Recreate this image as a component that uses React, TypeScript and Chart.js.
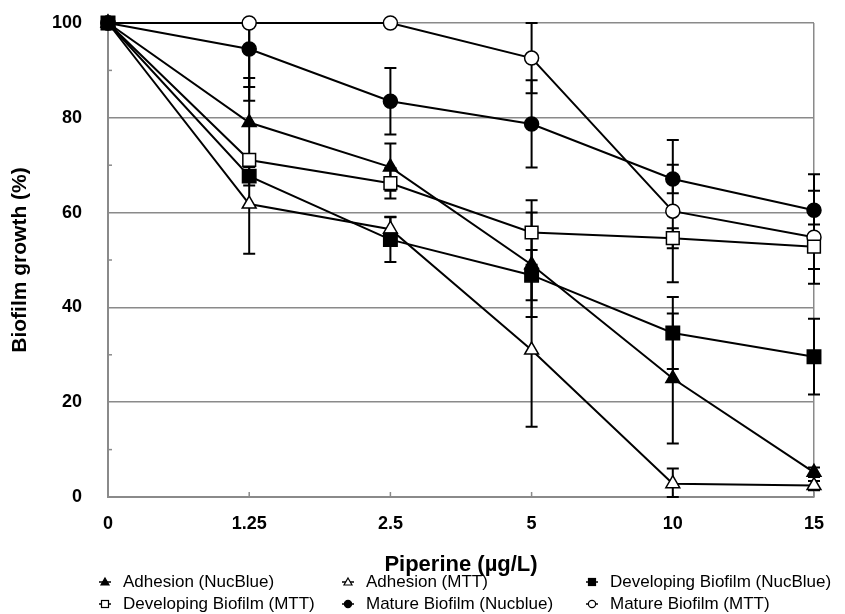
import React, { useEffect, useRef } from 'react';
import { Chart, registerables } from 'chart.js';

Chart.register(...registerables);

const categories = ['0', '1.25', '2.5', '5', '10', '15'];

const adhesionNuc = [100, 79, 69.6, 49, 25, 5.2];
const adhesionNucErr = [0, 9.4, 5, 11, 13.7, 1];
const adhesionMtt = [100, 61.8, 56.5, 31, 2.8, 2.4];
const adhesionMttErr = [0, 10.5, 2.6, 16.2, 3.2, 1];
const developingNuc = [100, 67.7, 54.3, 46.8, 34.6, 29.6];
const developingNucErr = [0, 2, 4.7, 5.3, 7.6, 8];
const developingMtt = [100, 71.1, 66.2, 55.8, 54.6, 52.8];
const developingMttErr = [0, 1, 3.2, 6.8, 2.1, 4.7];
const matureNuc = [100, 94.5, 83.5, 78.7, 67.1, 60.5];
const matureNucErr = [0, 8, 7, 9.2, 3, 7.6];
const matureMtt = [100, 100, 100, 92.6, 60.3, 54.8];
const matureMttErr = [0, 16.4, 0, 7.4, 15, 9.8];

const yTicks = [0, 20, 40, 60, 80, 100];

const FONT = "'Liberation Sans', Arial, Helvetica, sans-serif";
const GRID = '#8a8a8a';

type Series = {
  label: string;
  data: number[];
  err: number[];
  style: 'triangle' | 'rect' | 'circle';
  filled: boolean;
  radius: number;
  order: number;
};

const series: Series[] = [
  { label: 'Adhesion (NucBlue)', data: adhesionNuc, err: adhesionNucErr, style: 'triangle', filled: true, radius: 8, order: 2 },
  { label: 'Adhesion (MTT)', data: adhesionMtt, err: adhesionMttErr, style: 'triangle', filled: false, radius: 8, order: 3 },
  { label: 'Developing Biofilm (NucBlue)', data: developingNuc, err: developingNucErr, style: 'rect', filled: true, radius: 9.5, order: 0 },
  { label: 'Developing Biofilm (MTT)', data: developingMtt, err: developingMttErr, style: 'rect', filled: false, radius: 9, order: 4 },
  { label: 'Mature Biofilm (Nucblue)', data: matureNuc, err: matureNucErr, style: 'circle', filled: true, radius: 7, order: 1 },
  { label: 'Mature Biofilm (MTT)', data: matureMtt, err: matureMttErr, style: 'circle', filled: false, radius: 7, order: 5 },
];

const legendLayout = [
  { col: 0, row: 0 }, { col: 1, row: 0 }, { col: 2, row: 0 },
  { col: 0, row: 1 }, { col: 1, row: 1 }, { col: 2, row: 1 },
];
const colX = [97, 340, 584];
const rowY = [574, 596];

const errorBarPlugin = {
  id: 'errorBars',
  beforeDatasetsDraw(chart: any) {
    const { ctx, scales, chartArea } = chart;
    const x = scales.x;
    const y = scales.y;
    ctx.save();
    // inner tick marks
    ctx.strokeStyle = GRID;
    ctx.lineWidth = 1.5;
    categories.forEach((_, i) => {
      const px = x.getPixelForValue(i);
      ctx.beginPath();
      ctx.moveTo(px, chartArea.bottom);
      ctx.lineTo(px, chartArea.bottom - 5);
      ctx.stroke();
    });
    for (let v = 10; v < 100; v += 20) {
      const py = y.getPixelForValue(v);
      ctx.beginPath();
      ctx.moveTo(chartArea.left, py);
      ctx.lineTo(chartArea.left + 4, py);
      ctx.stroke();
    }
    // error bars
    ctx.strokeStyle = '#000';
    ctx.lineWidth = 2;
    series.forEach((s) => {
      s.data.forEach((v, i) => {
        const e = s.err[i];
        if (!e) return;
        const px = x.getPixelForValue(i);
        const top = y.getPixelForValue(Math.min(100, v + e));
        const bot = y.getPixelForValue(Math.max(0, v - e));
        ctx.beginPath();
        ctx.moveTo(px, top);
        ctx.lineTo(px, bot);
        if (v + e <= 100) {
          ctx.moveTo(px - 6, top);
          ctx.lineTo(px + 6, top);
        }
        ctx.moveTo(px - 6, bot);
        ctx.lineTo(px + 6, bot);
        ctx.stroke();
      });
    });
    ctx.restore();
  },
};

function LegendMarker({ style, filled }: { style: string; filled: boolean }) {
  const fill = filled ? '#000' : '#fff';
  return (
    <svg width="12" height="12" viewBox="0 0 12 12" style={{ display: 'block', flex: 'none' }}>
      <line x1="0" y1="6" x2="12" y2="6" stroke="#000" strokeWidth="1.5" />
      {style === 'triangle' && <polygon points="6,2 10,9 2,9" fill={fill} stroke="#000" strokeWidth="1.2" />}
      {style === 'rect' && <rect x="2.5" y="2.5" width="7" height="7" fill={fill} stroke="#000" strokeWidth="1.2" />}
      {style === 'circle' && <circle cx="6" cy="6" r="3.6" fill={fill} stroke="#000" strokeWidth="1.2" />}
    </svg>
  );
}

export default function App() {
  const ref = useRef<HTMLCanvasElement>(null);

  useEffect(() => {
    document.documentElement.style.overflow = 'hidden';
    if (!ref.current) return;
    const chart = new Chart(ref.current, {
      type: 'line',
      data: {
        labels: categories,
        datasets: series.map((s) => ({
          label: s.label,
          data: s.data,
          order: s.order,
          clip: false,
          borderColor: '#000',
          borderWidth: 2,
          tension: 0,
          pointStyle: s.style,
          pointRadius: s.radius,
          pointHoverRadius: s.radius,
          pointBackgroundColor: s.filled ? '#000' : '#fff',
          pointBorderColor: '#000',
          pointBorderWidth: 1.5,
          fill: false,
        })),
      },
      options: {
        responsive: false,
        animation: false,
        devicePixelRatio: 1,
        layout: { padding: { left: 0, right: 23, top: 15, bottom: 36 } },
        plugins: { legend: { display: false }, tooltip: { enabled: false } },
        scales: {
          x: {
            type: 'category',
            offset: false,
            afterFit: (scale: any) => {
              scale.height = 81;
              scale.paddingLeft = 0;
              scale.paddingRight = 0;
            },
            grid: {
              drawTicks: false,
              color: (ctx: any) => (ctx.index === categories.length - 1 ? GRID : 'rgba(0,0,0,0)'),
              lineWidth: 1.5,
            },
            border: { display: true, color: GRID, width: 2 },
            ticks: {
              color: '#000',
              padding: 16,
              font: { family: FONT, size: 18, weight: 'bold' },
              maxRotation: 0,
            },
            title: {
              display: true,
              text: 'Piperine (µg/L)',
              color: '#000',
              font: { family: FONT, size: 22, weight: 'bold' },
              padding: 0,
            },
          },
          y: {
            min: 0,
            max: 100,
            afterFit: (scale: any) => {
              scale.width = 100;
              scale.paddingTop = 0;
              scale.paddingBottom = 0;
            },
            afterBuildTicks: (scale: any) => { scale.ticks = yTicks.map((v) => ({ value: v })); },
            grid: {
              drawTicks: false,
              color: GRID,
              lineWidth: 1.5,
            },
            border: { display: true, color: GRID, width: 2 },
            ticks: {
              color: '#000',
              padding: 26,
              font: { family: FONT, size: 18, weight: 'bold' },
            },
            title: {
              display: true,
              text: 'Biofilm growth (%)',
              color: '#000',
              font: { family: FONT, size: 21, weight: 'bold' },
              padding: 0,
            },
          },
        },
      } as any,
      plugins: [errorBarPlugin],
    });
    return () => chart.destroy();
  }, []);

  return (
    <div style={{ position: 'relative', width: 829, height: 606, fontFamily: FONT }}>
      <canvas ref={ref} width={829} height={606} style={{ display: 'block' }} />
      {series.map((s, i) => {
        const pos = legendLayout[i];
        return (
          <div
            key={s.label}
            style={{
              position: 'absolute',
              left: colX[pos.col] - 6,
              top: rowY[pos.row] - 9,
              height: 18,
              lineHeight: '18px',
              display: 'flex',
              alignItems: 'center',
              gap: 12,
              fontSize: 17,
              color: '#000',
              whiteSpace: 'nowrap',
            }}
          >
            <LegendMarker style={s.style} filled={s.filled} />
            <span>{s.label}</span>
          </div>
        );
      })}
    </div>
  );
}
